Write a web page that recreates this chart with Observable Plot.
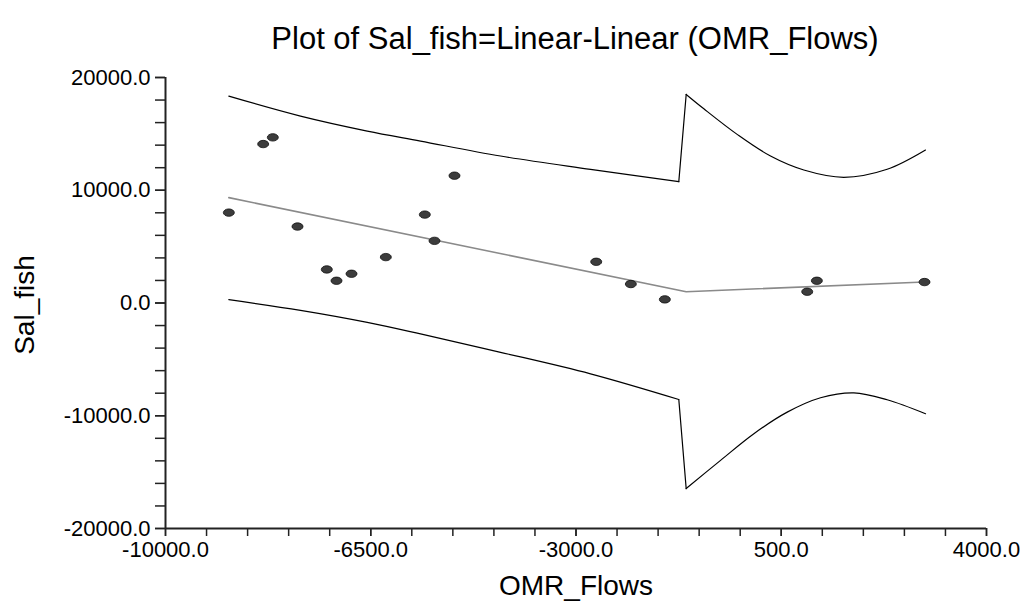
<!DOCTYPE html>
<html>
<head>
<meta charset="utf-8">
<script src="https://cdn.jsdelivr.net/npm/d3@7"></script>
<script src="https://cdn.jsdelivr.net/npm/@observablehq/plot@0.6"></script>
<style>
  body { margin: 0; background: #fff; }
  #wrap { width: 1025px; font-family: "Liberation Sans", Arial, sans-serif; }
  #title { position: relative; height: 60px; width: 1025px; }
  #title span { position: absolute; left: 575px; top: 23px; transform: translateX(-50%);
    font-size: 31px; line-height: 31px; white-space: nowrap; color: #000; }
</style>
</head>
<body>
<div id="wrap">
  <div id="title"><span>Plot of Sal_fish=Linear-Linear (OMR_Flows)</span></div>
  <div id="chart"></div>
</div>
<script>
// observed data
const flows   = [-8920, -8334, -8170, -7749, -7249, -7084, -6828, -6243, -5578, -5413, -5072, -2655, -2065, -1485, 943, 1107, 2943];
const salFish = [8018, 14097, 14690, 6779, 2973, 1973, 2593, 4071, 7841, 5513, 11292, 3655, 1681, 319, 1000, 1973, 1858];

// fitted linear-linear line
const fitX = [-8920, -1121, 2943];
const fitY = [9345, 1000, 1858];

// confidence band
const upperLeftX  = [-8920, -7698, -6560, -5651, -4287, -2752, -1247];
const upperLeftY  = [18345, 16575, 15248, 14363, 13035, 11858, 10761];
const lowerLeftX  = [-8920, -7698, -6560, -5651, -4287, -2752, -1247];
const lowerLeftY  = [292, -650, -1717, -2743, -4372, -6283, -8558];
const upperRightX = [-1121, -820, -252, 317, 885, 1567, 2306, 2960];
const upperRightY = [18496, 17221, 14956, 13035, 11796, 11150, 11858, 13566];
const lowerRightX = [-1121, -535, 33, 602, 1170, 1738, 2306, 2960];
const lowerRightY = [-16460, -13956, -11593, -9681, -8407, -7965, -8584, -9823];

// axis ticks
const xMajor = [-10000, -6500, -3000, 500, 4000];
const yMajor = [-20000, -10000, 0, 10000, 20000];
const xMinor = d3.range(-10000, 4001, 700);
const yMinor = d3.range(-20000, 20001, 2000);

const pts = (xs, ys) => xs.map((x, i) => ({x, y: ys[i]}));
const points = pts(flows, salFish);
const fit = pts(fitX, fitY);
const uL = pts(upperLeftX, upperLeftY), lL = pts(lowerLeftX, lowerLeftY);
const uR = pts(upperRightX, upperRightY), lR = pts(lowerRightX, lowerRightY);
const uJump = [uL[uL.length - 1], uR[0]];
const lJump = [lL[lL.length - 1], lR[0]];

const ellipse = {
  draw(ctx) {
    const rx = 5.5, ry = 3.7, k = 0.5523;
    ctx.moveTo(rx, 0);
    ctx.bezierCurveTo(rx, k * ry, k * rx, ry, 0, ry);
    ctx.bezierCurveTo(-k * rx, ry, -rx, k * ry, -rx, 0);
    ctx.bezierCurveTo(-rx, -k * ry, -k * rx, -ry, 0, -ry);
    ctx.bezierCurveTo(k * rx, -ry, rx, -k * ry, rx, 0);
    ctx.closePath();
  }
};

const fmt = d => d.toFixed(1);
const bandStyle = {x: "x", y: "y", stroke: "#000", strokeWidth: 1.2};

const chart = Plot.plot({
  width: 1025,
  height: 541,
  marginTop: 17,
  marginBottom: 73,
  marginLeft: 165,
  marginRight: 39,
  x: {domain: [-10000, 4000]},
  y: {domain: [-20000, 20000]},
  style: {fontFamily: '"Liberation Sans", Arial, sans-serif', background: "#fff", color: "#000", overflow: "visible"},
  marks: [
    Plot.axisX({ticks: xMinor, tickSize: 8, tickFormat: () => "", label: null, stroke: "#222", strokeWidth: 1.5}),
    Plot.axisX({ticks: xMajor, tickSize: 8, tickPadding: 5, tickFormat: fmt, label: null, fontSize: 22, stroke: "#222", strokeWidth: 1.5}),
    Plot.axisY({ticks: yMinor, tickSize: 10, tickFormat: () => "", label: null, stroke: "#222", strokeWidth: 1.5}),
    Plot.axisY({ticks: yMajor, tickSize: 10, tickPadding: 5, tickFormat: fmt, label: null, fontSize: 22, stroke: "#222", strokeWidth: 1.5}),
    Plot.ruleY([-20000], {stroke: "#222", strokeWidth: 2}),
    Plot.ruleX([-10000], {stroke: "#222", strokeWidth: 2}),
    Plot.line(uL, {...bandStyle, curve: "catmull-rom"}),
    Plot.line(lL, {...bandStyle, curve: "catmull-rom"}),
    Plot.line(uR, {...bandStyle, curve: "catmull-rom"}),
    Plot.line(lR, {...bandStyle, curve: "catmull-rom"}),
    Plot.line(uJump, bandStyle),
    Plot.line(lJump, bandStyle),
    Plot.line(fit, {x: "x", y: "y", stroke: "#8a8a8a", strokeWidth: 1.6}),
    Plot.dot(points, {x: "x", y: "y", symbol: ellipse, fill: "#3c3c3c", stroke: "#111", strokeWidth: 0.8}),
    Plot.text(["OMR_Flows"], {frameAnchor: "bottom", textAnchor: "middle", lineAnchor: "bottom", dy: 66, fontSize: 28, fill: "#000"}),
    Plot.text(["Sal_fish"], {frameAnchor: "left", textAnchor: "middle", lineAnchor: "bottom", rotate: -90, dx: -132, dy: 2, fontSize: 28, fill: "#000"})
  ]
});
document.getElementById("chart").appendChild(chart);
</script>
</body>
</html>
